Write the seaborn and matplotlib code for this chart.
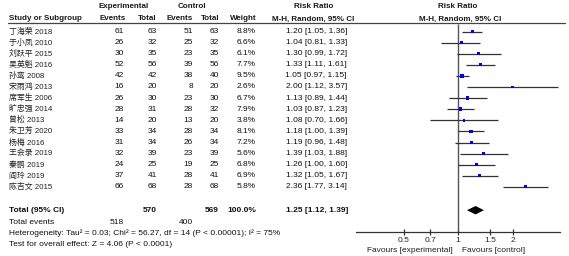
import matplotlib
matplotlib.use("Agg")
import matplotlib.pyplot as plt
import seaborn as sns
import pandas as pd

# study data
studies = ["丁海荣 2018", "于小凤 2010", "刘跃平 2015", "吴英魁 2016", "孙鸾 2008",
           "宋雨鸿 2013", "席军生 2006", "旷忠强 2014", "曾松 2013", "朱卫芳 2020",
           "杨梅 2016", "王会录 2019", "秦鹏 2019", "阎玲 2019", "陈吉文 2015"]
exp_events = [61, 26, 30, 52, 42, 16, 26, 28, 14, 33, 31, 32, 24, 37, 66]
exp_total = [63, 32, 35, 56, 42, 20, 30, 31, 20, 34, 34, 39, 25, 41, 68]
ctrl_events = [51, 25, 23, 39, 38, 8, 23, 28, 13, 28, 26, 23, 19, 28, 28]
ctrl_total = [63, 32, 35, 56, 40, 20, 30, 32, 20, 34, 34, 39, 25, 41, 68]
weights = [8.8, 6.6, 6.1, 7.7, 9.5, 2.6, 6.7, 7.9, 3.8, 8.1, 7.2, 5.6, 6.8, 6.9, 5.8]
rr = [1.20, 1.04, 1.30, 1.33, 1.05, 2.00, 1.13, 1.03, 1.08, 1.18, 1.19, 1.39, 1.26, 1.32, 2.36]
rr_lo = [1.05, 0.81, 0.99, 1.11, 0.97, 1.12, 0.89, 0.87, 0.70, 1.00, 0.96, 1.03, 1.00, 1.05, 1.77]
rr_hi = [1.36, 1.33, 1.72, 1.61, 1.15, 3.57, 1.44, 1.23, 1.66, 1.39, 1.48, 1.88, 1.60, 1.67, 3.14]

total_exp, total_ctrl = 570, 569
total_weight = 100.0
events_exp, events_ctrl = 518, 400
pooled = (1.25, 1.12, 1.39)
het_text = "Heterogeneity: Tau² = 0.03; Chi² = 56.27, df = 14 (P < 0.00001); I² = 75%"
effect_text = "Test for overall effect: Z = 4.06 (P < 0.0001)"
tick_vals = [0.5, 0.7, 1, 1.5, 2]
tick_labels = ["0.5", "0.7", "1", "1.5", "2"]

df = pd.DataFrame({"study": studies, "rr": rr, "lo": rr_lo, "hi": rr_hi, "w": weights})
df["row"] = range(len(df))

sns.set_theme(style="white")
plt.rcParams["font.family"] = ["Liberation Sans", "Noto Sans CJK SC", "DejaVu Sans"]
fs = 6.0

W, H = 569, 256
y0, dy = 31.5, 11.1          # pixel y of first row, row spacing
r_top, r_bot = -y0 / dy, (H - y0) / dy
r_total = 16.1
r_axis = (232 - y0) / dy

fig = plt.figure(figsize=(W / 100, H / 100), dpi=100)
ax_t = fig.add_axes([0, 0, 1, 1])
ax_t.set_xlim(0, W)
ax_t.set_ylim(r_bot, r_top)
ax_t.axis("off")

# --- headers ---
r_h1, r_h2 = (7 - y0) / dy, (19 - y0) / dy
hb = dict(fontsize=fs - 0.2, fontweight="bold", va="center", color="#1a1a1a")
ax_t.text(124, r_h1, "Experimental", ha="center", **hb)
ax_t.text(192, r_h1, "Control", ha="center", **hb)
ax_t.text(314, r_h1, "Risk Ratio", ha="center", **hb)
ax_t.text(458, r_h1, "Risk Ratio", ha="center", **hb)
ax_t.text(9, r_h2, "Study or Subgroup", ha="left", **hb)
ax_t.text(126, r_h2, "Events", ha="right", **hb)
ax_t.text(157, r_h2, "Total", ha="right", **hb)
ax_t.text(193, r_h2, "Events", ha="right", **hb)
ax_t.text(220, r_h2, "Total", ha="right", **hb)
ax_t.text(257, r_h2, "Weight", ha="right", **hb)
ax_t.text(313, r_h2, "M-H, Random, 95% CI", ha="center", **hb)
ax_t.text(460, r_h2, "M-H, Random, 95% CI", ha="center", **hb)
ax_t.plot([8, 565], [(22.5 - y0) / dy] * 2, color="#444444", lw=0.9)

# --- study rows ---
tr = dict(fontsize=fs, va="center", color="#111111")
for i in range(len(studies)):
    ax_t.text(9, i, studies[i], ha="left", fontsize=fs - 0.3, va="center", color="#222222")
    ax_t.text(124, i, str(exp_events[i]), ha="right", **tr)
    ax_t.text(157, i, str(exp_total[i]), ha="right", **tr)
    ax_t.text(193, i, str(ctrl_events[i]), ha="right", **tr)
    ax_t.text(219, i, str(ctrl_total[i]), ha="right", **tr)
    ax_t.text(256, i, f"{weights[i]:.1f}%", ha="right", **tr)
    ax_t.text(347, i, f"{rr[i]:.2f} [{rr_lo[i]:.2f}, {rr_hi[i]:.2f}]", ha="right", **tr)

# --- totals ---
tb = dict(fontsize=fs, va="center", fontweight="bold", color="#111111")
ax_t.text(9, r_total, "Total (95% CI)", ha="left", **tb)
ax_t.text(157, r_total, str(total_exp), ha="right", **tb)
ax_t.text(219, r_total, str(total_ctrl), ha="right", **tb)
ax_t.text(256, r_total, f"{total_weight:.1f}%", ha="right", **tb)
ax_t.text(348, r_total, f"{pooled[0]:.2f} [{pooled[1]:.2f}, {pooled[2]:.2f}]", ha="right", **tb)
r_ev = (223 - y0) / dy
ax_t.text(9, r_ev, "Total events", ha="left", **tr)
ax_t.text(124, r_ev, str(events_exp), ha="right", **tr)
ax_t.text(193, r_ev, str(events_ctrl), ha="right", **tr)
ax_t.text(9, (233.5 - y0) / dy, het_text, ha="left", **tr)
ax_t.text(9, (244 - y0) / dy, effect_text, ha="left", **tr)

# --- forest panel ---
ax_f = fig.add_axes([356 / W, 0, 204 / W, 1])
ax_f.set_xscale("log")
ax_f.set_xlim(0.273, 3.66)
ax_f.set_ylim(r_bot, r_top)
ax_f.patch.set_alpha(0)

ax_f.vlines(1, (24 - y0) / dy, r_axis, color="#555555", lw=1.0, zorder=1)
ax_f.hlines(df["row"], df["lo"], df["hi"], color="#333333", lw=0.9, zorder=2)
sns.scatterplot(data=df, x="rr", y="row", size="w", sizes=(3, 7), marker="s",
                color="#0000ee", edgecolor="none", legend=False, ax=ax_f, zorder=3)
h = 0.38
ax_f.fill([pooled[1], pooled[0], pooled[2], pooled[0]],
          [r_total, r_total - h, r_total, r_total + h], color="black", lw=0, zorder=3)

for s in ["top", "left", "right"]:
    ax_f.spines[s].set_visible(False)
ax_f.spines["bottom"].set_position(("data", r_axis))
ax_f.spines["bottom"].set_color("#333333")
ax_f.spines["bottom"].set_linewidth(0.9)
ax_f.set_yticks([])
ax_f.minorticks_off()
ax_f.set_xticks(tick_vals)
ax_f.set_xticklabels(tick_labels)
ax_f.tick_params(axis="x", direction="inout", length=4.5, width=0.9, color="#333333",
                 labelsize=fs, pad=1.5, bottom=True)
ax_f.set_xlabel("")
ax_f.set_ylabel("")

r_fav = (251 - y0) / dy
ax_f.annotate("Favours [experimental]", xy=(1, r_fav), xytext=(-4, 0),
              textcoords="offset points", ha="right", va="center", fontsize=fs, color="#222222")
ax_f.annotate("Favours [control]", xy=(1, r_fav), xytext=(3, 0),
              textcoords="offset points", ha="left", va="center", fontsize=fs, color="#222222")

fig.savefig("out.png", dpi=100)
